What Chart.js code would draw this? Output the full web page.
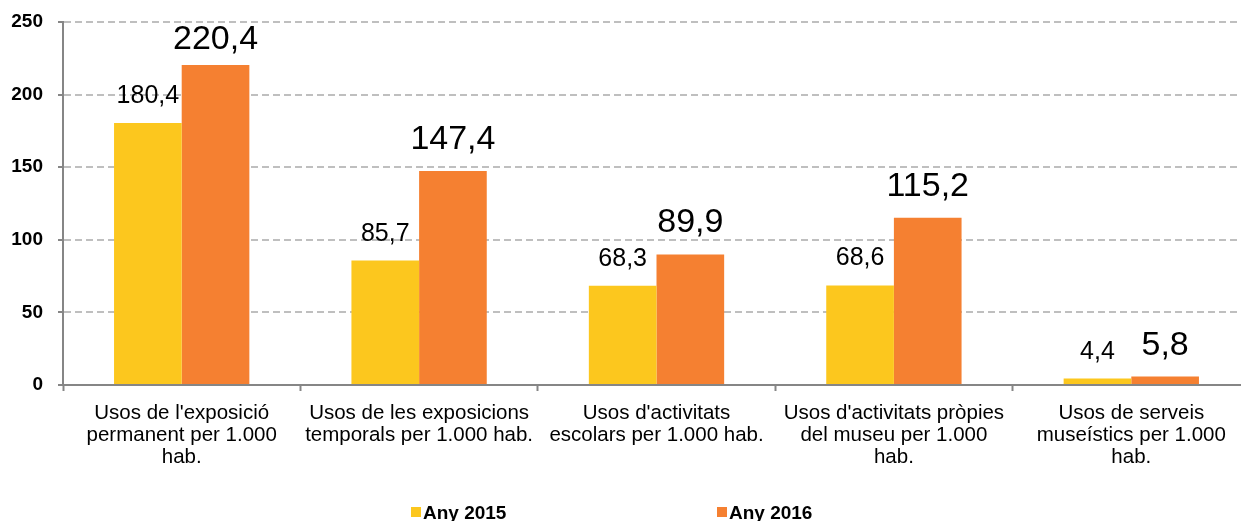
<!DOCTYPE html>
<html lang="ca">
<head>
<meta charset="utf-8">
<title>Usos per 1.000 hab.</title>
<script src="https://cdn.jsdelivr.net/npm/chart.js@4.4.1/dist/chart.umd.min.js"></script>
<style>
    html, body { margin: 0; padding: 0; background: #fff; overflow: hidden; }
    #wrap { width: 1250px; height: 521px; position: relative; }
</style>
</head>
<body>
<div id="wrap"><canvas id="chart"></canvas></div>
<script>
// Data
const categories = [
    ["Usos de l'exposició", "permanent per 1.000", "hab."],
    ["Usos de les exposicions", "temporals per 1.000 hab."],
    ["Usos d'activitats", "escolars per 1.000 hab."],
    ["Usos d'activitats pròpies", "del museu per 1.000", "hab."],
    ["Usos de serveis", "museístics per 1.000", "hab."]
];
const seriesNames = ['Any 2015', 'Any 2016'];
const values2015 = [180.4, 85.7, 68.3, 68.6, 4.4];
const values2016 = [220.4, 147.4, 89.9, 115.2, 5.8];
const yTicks = [0, 50, 100, 150, 200, 250];

const FONT = '"Liberation Sans", Arial, sans-serif';
const AXIS_GREY = '#868686';
const GRID_GREY = '#BFBFBF';

// Value labels above the bars (Excel style, comma decimals)
const labelStyles = [
    { size: 25, gap: 20 },
    { size: 34, gap: 22 }
];

const valueLabels = {
    id: 'valueLabels',
    afterDatasetsDraw(chart) {
        const ctx = chart.ctx;
        const top = chart.chartArea.top;
        chart.data.datasets.forEach((ds, i) => {
            const meta = chart.getDatasetMeta(i);
            const style = labelStyles[i];
            ctx.save();
            ctx.font = `${style.size}px ${FONT}`;
            ctx.fillStyle = '#000';
            ctx.textAlign = 'center';
            ctx.textBaseline = 'alphabetic';
            meta.data.forEach((bar, j) => {
                const text = ds.data[j].toFixed(1).replace('.', ',');
                // keep the label inside the plot area, like Excel does
                const y = Math.max(bar.y - style.gap, top + style.size * 0.8);
                ctx.fillText(text, bar.x, y);
            });
            ctx.restore();
        });
    }
};

// Legend at the bottom, two items spread apart
const bottomLegend = {
    id: 'bottomLegend',
    afterDraw(chart) {
        const ctx = chart.ctx;
        const starts = [411, 717];
        ctx.save();
        ctx.font = `bold 19px ${FONT}`;
        ctx.textBaseline = 'alphabetic';
        ctx.textAlign = 'left';
        chart.data.datasets.forEach((ds, i) => {
            const x = starts[i];
            ctx.fillStyle = ds.backgroundColor;
            ctx.fillRect(x, 507, 10, 10);
            ctx.fillStyle = '#000';
            ctx.fillText(ds.label, x + 12, 519);
        });
        ctx.restore();
    }
};

const ctx = document.getElementById('chart').getContext('2d');
new Chart(ctx, {
    type: 'bar',
    data: {
        labels: categories,
        datasets: [
            { label: seriesNames[0], data: values2015, backgroundColor: '#FCC71E' },
            { label: seriesNames[1], data: values2016, backgroundColor: '#F58031' }
        ]
    },
    options: {
        responsive: true,
        maintainAspectRatio: false,
        animation: false,
        events: [],
        categoryPercentage: 0.57,
        barPercentage: 1.0,
        layout: { padding: { top: 22, left: 0, right: 0, bottom: 53 } },
        plugins: {
            legend: { display: false },
            tooltip: { enabled: false }
        },
        scales: {
            x: {
                grid: {
                    drawOnChartArea: false,
                    drawTicks: true,
                    tickLength: 6,
                    tickWidth: 2,
                    tickColor: AXIS_GREY
                },
                border: { color: AXIS_GREY, width: 2 },
                ticks: {
                    color: '#000',
                    padding: 11,
                    maxRotation: 0,
                    autoSkip: false,
                    font: { family: FONT, size: 20.5, lineHeight: 1.08 }
                },
                afterFit(scale) { scale.height = 83; }
            },
            y: {
                min: 0,
                max: 250,
                afterBuildTicks(scale) {
                    scale.ticks = yTicks.map(v => ({ value: v }));
                },
                grid: {
                    color: c => (c.tick && c.tick.value === 0 ? 'rgba(0,0,0,0)' : GRID_GREY),
                    lineWidth: 2,
                    drawTicks: true,
                    tickLength: 5,
                    tickWidth: 2,
                    tickColor: AXIS_GREY
                },
                border: { color: AXIS_GREY, width: 2, dash: [7, 4] },
                ticks: {
                    color: '#000',
                    padding: 15,
                    font: { family: FONT, size: 19, weight: 'bold' }
                },
                afterFit(scale) {
                    scale.width = 63;
                    // the plot top is set by layout padding, not by the tick label
                    scale.paddingTop = 0;
                    scale.paddingBottom = 0;
                }
            }
        }
    },
    plugins: [valueLabels, bottomLegend]
});
</script>
</body>
</html>
